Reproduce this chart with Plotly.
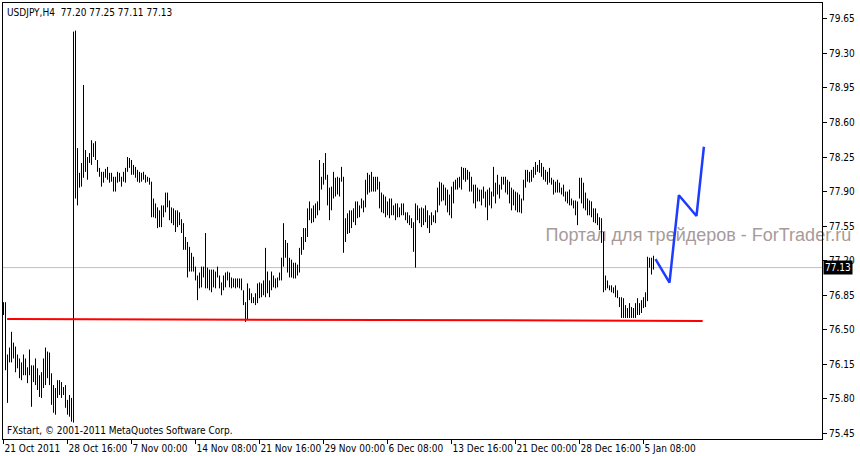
import plotly.graph_objects as go

# ---- data (USDJPY H4 bars) ----
highs = [
    76.78, 76.78, 76.25, 76.32, 76.48, 76.37, 76.33, 76.25, 76.21, 76.17,
    76.25, 76.21, 76.12, 76.30, 76.14, 76.14, 76.21, 76.11, 76.04, 76.07,
    76.21, 76.32, 76.28, 76.27, 76.06, 75.94, 75.91, 75.99, 75.99, 75.97,
    75.92, 75.94, 75.79, 75.84, 75.81, 79.52, 79.53, 78.34, 78.09, 78.19,
    78.98, 78.32, 78.25, 78.29, 78.42, 78.39, 78.41, 78.22, 78.14, 78.10,
    78.10, 78.13, 78.15, 78.09, 78.09, 78.05, 78.05, 78.10, 78.09, 78.05,
    78.10, 78.14, 78.25, 78.24, 78.22, 78.17, 78.15, 78.12, 78.10, 78.09,
    78.10, 78.07, 78.05, 78.04, 78.00, 77.83, 77.78, 77.74, 77.71, 77.76,
    77.76, 77.89, 77.89, 77.81, 77.74, 77.73, 77.71, 77.71, 77.69, 77.62,
    77.58, 77.44, 77.39, 77.34, 77.28, 77.24, 77.14, 77.05, 77.08, 77.14,
    77.14, 77.48, 77.13, 77.11, 77.11, 77.11, 77.09, 77.14, 77.05, 76.98,
    77.05, 77.08, 77.09, 77.08, 77.03, 77.02, 77.02, 77.02, 77.02, 77.02,
    76.90, 76.78, 76.97, 76.92, 76.87, 76.83, 76.87, 76.97, 76.98, 76.97,
    77.00, 77.33, 77.09, 77.00, 77.09, 77.05, 77.02, 77.03, 77.08, 77.23,
    77.58, 77.41, 77.38, 77.23, 77.21, 77.18, 77.18, 77.16, 77.33, 77.44,
    77.53, 77.53, 77.73, 77.80, 77.73, 77.76, 77.78, 77.80, 78.22, 78.05,
    78.19, 78.29, 78.07, 77.94, 77.95, 78.10, 78.04, 78.05, 78.04, 78.15,
    78.05, 77.63, 77.68, 77.71, 77.71, 77.73, 77.80, 77.80, 77.76, 77.83,
    77.81, 78.02, 78.09, 78.07, 78.10, 78.05, 78.05, 78.05, 78.00, 77.89,
    77.87, 77.85, 77.80, 77.83, 77.83, 77.76, 77.78, 77.78, 77.74, 77.78,
    77.78, 77.69, 77.69, 77.66, 77.63, 77.59, 77.78, 77.76, 77.73, 77.74,
    77.73, 77.76, 77.71, 77.66, 77.69, 77.66, 77.71, 77.94, 78.00, 77.99,
    77.97, 77.94, 77.92, 77.87, 77.95, 78.00, 78.02, 78.04, 78.05, 78.15,
    78.14, 78.14, 78.12, 78.10, 78.05, 77.97, 77.97, 77.94, 77.92, 77.92,
    77.95, 77.90, 77.92, 77.94, 77.90, 78.15, 77.99, 78.07, 77.97, 78.05,
    78.05, 78.05, 78.02, 78.00, 77.94, 77.92, 77.90, 77.89, 77.87, 77.83,
    78.02, 78.12, 78.12, 78.10, 78.12, 78.15, 78.20, 78.17, 78.22, 78.19,
    78.15, 78.12, 78.10, 78.14, 78.04, 78.02, 78.00, 78.02, 77.99, 77.94,
    77.97, 77.90, 77.90, 77.92, 77.83, 77.81, 77.81, 77.80, 78.04, 78.04,
    77.99, 77.89, 77.83, 77.81, 77.80, 77.73, 77.73, 77.68, 77.64, 77.63,
    77.49, 77.05, 77.00, 76.95, 76.95, 76.93, 76.95, 76.90, 76.83, 76.83,
    76.82, 76.75, 76.72, 76.77, 76.73, 76.72, 76.77, 76.82, 76.77, 76.80,
    76.83, 76.88, 77.24, 77.23, 77.23, 77.25,
]

lows = [
    76.65, 76.09, 75.76, 76.17, 76.17, 76.21, 76.07, 76.11, 76.01, 75.99,
    76.04, 76.04, 75.96, 76.04, 75.72, 75.97, 75.94, 75.89, 75.82, 75.81,
    75.91, 75.94, 76.01, 75.94, 75.74, 75.66, 75.64, 75.81, 75.84, 75.81,
    75.84, 75.71, 75.64, 75.62, 75.57, 75.56, 77.83, 77.76, 77.94, 77.95,
    78.04, 78.10, 78.02, 78.19, 78.17, 78.25, 78.22, 78.10, 78.05, 77.95,
    77.99, 78.04, 78.02, 77.99, 78.00, 77.90, 77.90, 77.99, 78.00, 77.95,
    78.00, 77.99, 78.10, 78.14, 78.07, 78.07, 78.04, 78.00, 77.99, 78.00,
    78.02, 77.99, 78.00, 77.97, 77.64, 77.64, 77.63, 77.53, 77.54, 77.54,
    77.64, 77.69, 77.74, 77.61, 77.58, 77.56, 77.49, 77.54, 77.56, 77.48,
    77.31, 77.31, 77.03, 77.09, 77.09, 77.09, 77.00, 76.80, 76.92, 76.93,
    77.03, 76.92, 76.92, 76.90, 76.88, 76.93, 76.92, 77.03, 76.92, 76.85,
    76.90, 76.93, 77.00, 76.93, 76.92, 76.93, 76.92, 76.93, 76.92, 76.90,
    76.75, 76.58, 76.60, 76.80, 76.77, 76.77, 76.75, 76.77, 76.82, 76.83,
    76.85, 76.83, 76.87, 76.83, 76.90, 76.93, 76.92, 76.93, 77.00, 77.00,
    77.14, 77.23, 77.08, 77.03, 77.03, 77.02, 77.02, 77.05, 77.08, 77.26,
    77.31, 77.39, 77.44, 77.61, 77.58, 77.59, 77.63, 77.66, 77.71, 77.92,
    77.97, 78.02, 77.76, 77.61, 77.71, 77.83, 77.85, 77.87, 77.85, 78.00,
    77.28, 77.39, 77.47, 77.48, 77.53, 77.59, 77.56, 77.63, 77.64, 77.73,
    77.69, 77.74, 77.87, 77.89, 77.90, 77.90, 77.90, 77.92, 77.73, 77.69,
    77.68, 77.64, 77.66, 77.63, 77.66, 77.66, 77.61, 77.64, 77.64, 77.66,
    77.66, 77.61, 77.58, 77.56, 77.53, 77.29, 77.13, 77.61, 77.58, 77.54,
    77.56, 77.59, 77.53, 77.48, 77.56, 77.59, 77.58, 77.69, 77.76, 77.80,
    77.81, 77.76, 77.69, 77.66, 77.63, 77.78, 77.92, 77.92, 77.94, 77.92,
    78.02, 78.00, 78.02, 77.90, 77.90, 77.78, 77.73, 77.80, 77.80, 77.76,
    77.83, 77.74, 77.61, 77.76, 77.73, 77.85, 77.78, 77.87, 77.83, 77.92,
    77.97, 77.89, 77.87, 77.78, 77.71, 77.76, 77.71, 77.69, 77.69, 77.68,
    77.81, 77.94, 78.00, 77.99, 78.00, 78.04, 78.07, 78.10, 78.09, 78.05,
    78.02, 78.00, 77.97, 77.99, 77.97, 77.87, 77.89, 77.89, 77.89, 77.87,
    77.85, 77.80, 77.78, 77.76, 77.76, 77.73, 77.66, 77.56, 77.83, 77.78,
    77.73, 77.71, 77.66, 77.66, 77.64, 77.59, 77.58, 77.56, 77.51, 77.38,
    76.88, 76.90, 76.92, 76.90, 76.88, 76.87, 76.83, 76.82, 76.73, 76.62,
    76.62, 76.62, 76.62, 76.62, 76.62, 76.62, 76.62, 76.65, 76.65, 76.67,
    76.72, 76.73, 76.79, 77.13, 77.06, 77.11,
]

# x-axis labels (one every 32 H4 bars)
tick_bars = [0, 32, 64, 96, 128, 160, 192, 224, 256, 288, 320]
tick_labels = ["21 Oct 2011", "28 Oct 16:00", "7 Nov 00:00", "14 Nov 08:00",
               "21 Nov 16:00", "29 Nov 00:00", "6 Dec 08:00", "13 Dec 16:00",
               "21 Dec 00:00", "28 Dec 16:00", "5 Jan 08:00"]

price_ticks = [75.45, 75.80, 76.15, 76.50, 76.85, 77.20, 77.55, 77.90,
               78.25, 78.60, 78.95, 79.30, 79.65]

last_bar = {"open": 77.20, "high": 77.25, "low": 77.11, "close": 77.13}

# red support trend line (bar index, price)
support_x = [1.8, 349.6]
support_y = [76.61, 76.59]

# blue forecast path (bar index, price)
forecast_x = [326, 333, 337.7, 346.5, 350.2]
forecast_y = [77.215, 76.978, 77.863, 77.653, 78.354]

FONT = "DejaVu Sans Condensed, DejaVu Sans, sans-serif"

# ---- build bar segments ----
bx, by = [], []
for i, (h, l) in enumerate(zip(highs, lows)):
    bx += [i, i, None]
    by += [l, h, None]

fig = go.Figure()

fig.add_trace(go.Scatter(
    x=[271], y=[77.44], mode="text",
    text=["Портал для трейдеров - ForTrader.ru"],
    textposition="middle right",
    textfont=dict(family="Liberation Sans, Arial, sans-serif", size=18, color="#a89a9a"),
    cliponaxis=False, hoverinfo="skip", showlegend=False))

fig.add_trace(go.Scatter(
    x=bx, y=by, mode="lines",
    line=dict(color="black", width=1),
    hoverinfo="skip", showlegend=False))

fig.add_trace(go.Scatter(
    x=support_x, y=support_y, mode="lines",
    line=dict(color="#ff0000", width=2),
    hoverinfo="skip", showlegend=False))

fig.add_trace(go.Scatter(
    x=forecast_x, y=forecast_y, mode="lines",
    line=dict(color="#1e3cff", width=2.5),
    hoverinfo="skip", showlegend=False))

# bid line
fig.add_shape(type="line", xref="paper", x0=0, x1=1, yref="y",
              y0=last_bar["close"], y1=last_bar["close"],
              line=dict(color="#c0c0c0", width=1), layer="below")

fig.update_layout(
    width=860, height=456,
    margin=dict(l=3, r=38, t=3, b=17, autoexpand=False),
    paper_bgcolor="white", plot_bgcolor="white",
    font=dict(family=FONT, size=10, color="black"),
    showlegend=False,
    xaxis=dict(
        range=[-0.25, 409.25], automargin=False,
        tickmode="array", tickvals=tick_bars, ticktext=tick_labels,
        tickangle=0,
        ticks="outside", ticklen=4, tickcolor="black", tickwidth=1,
        ticklabelposition="outside right",
        showgrid=False, zeroline=False,
        showline=True, linecolor="black", linewidth=1, mirror=True,
        tickfont=dict(family=FONT, size=10, color="black"),
    ),
    yaxis=dict(
        range=[75.394, 79.81], side="right", automargin=False,
        tickmode="array", tickvals=price_ticks,
        ticktext=[f"{v:.2f}" for v in price_ticks],
        ticks="outside", ticklen=4, tickcolor="black", tickwidth=1,
        showgrid=False, zeroline=False,
        showline=True, linecolor="black", linewidth=1, mirror=True,
        tickfont=dict(family=FONT, size=10, color="black"),
    ),
)

hdr = "USDJPY,H4\u00a0\u00a0{open:.2f} {high:.2f} {low:.2f} {close:.2f}".format(**last_bar)
fig.add_annotation(text=hdr, xref="paper", yref="paper", x=0, y=1,
                   xanchor="left", yanchor="top", xshift=2, yshift=-2,
                   showarrow=False, font=dict(family=FONT, size=10, color="black"))
fig.add_annotation(text="FXstart, © 2001-2011 MetaQuotes Software Corp.",
                   xref="paper", yref="paper", x=0, y=0,
                   xanchor="left", yanchor="bottom", xshift=2, yshift=1,
                   showarrow=False, font=dict(family=FONT, size=10, color="black"))
fig.add_annotation(text=f"{last_bar['close']:.2f}", xref="paper", yref="y",
                   x=1, y=last_bar["close"], xanchor="left", yanchor="middle",
                   xshift=1, showarrow=False, bgcolor="black", borderpad=1,
                   font=dict(family=FONT, size=10, color="white"))

fig.write_html("out.html",
               config={"displayModeBar": False},
               post_script="document.body.style.margin='0';document.body.style.padding='0';")
